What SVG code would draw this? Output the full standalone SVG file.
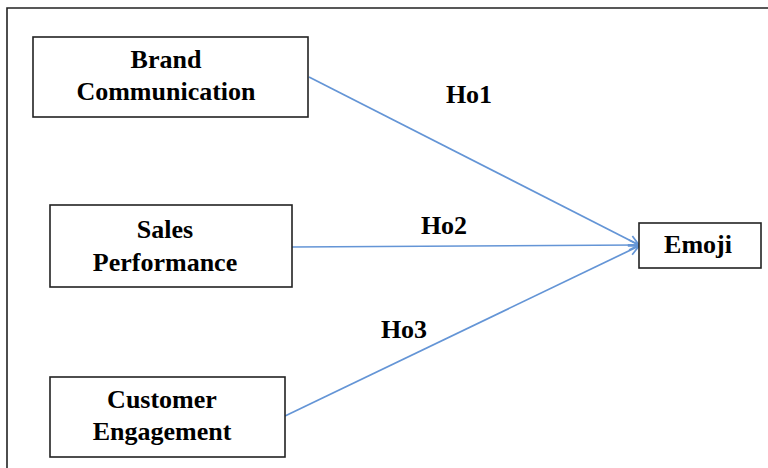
<svg xmlns="http://www.w3.org/2000/svg" width="768" height="468" viewBox="0 0 768 468">
<style>
.box{fill:#fff;stroke:#222;stroke-width:1.6}
.t{font-family:"Liberation Serif","Times New Roman",serif;font-weight:bold;font-size:26px;fill:#000;text-anchor:middle}
.c{stroke:#6495d6;stroke-width:1.7;fill:none;marker-end:url(#ah)}
</style>
<defs>
<marker id="ah" viewBox="0 0 12 12" refX="11" refY="6" markerWidth="12" markerHeight="12" markerUnits="userSpaceOnUse" orient="auto">
<path d="M1,1 L11,6 L1,11" fill="none" stroke="#6495d6" stroke-width="1.7"/>
</marker>
</defs>
<rect width="768" height="468" fill="#fff"/>
<path d="M7,468 V8 H768" fill="none" stroke="#222" stroke-width="1.6"/>
<g id="connectors">
<line class="c" x1="309" y1="77" x2="639" y2="245"/>
<line class="c" x1="292" y1="247" x2="639" y2="245"/>
<line class="c" x1="285" y1="416" x2="639" y2="246"/>
<text class="t" x="469" y="103">Ho1</text>
<text class="t" x="444" y="234">Ho2</text>
<text class="t" x="404" y="338">Ho3</text>
</g>
<g id="brand">
<rect class="box" x="33" y="37" width="275" height="80"/>
<text class="t" x="166" y="68">Brand</text>
<text class="t" x="166" y="100">Communication</text>
</g>
<g id="sales">
<rect class="box" x="50" y="205" width="242" height="82"/>
<text class="t" x="165" y="238">Sales</text>
<text class="t" x="165" y="271">Performance</text>
</g>
<g id="customer">
<rect class="box" x="50" y="377" width="235" height="80"/>
<text class="t" x="162" y="408">Customer</text>
<text class="t" x="162" y="440">Engagement</text>
</g>
<g id="emoji">
<rect class="box" x="639" y="223" width="122" height="45"/>
<text class="t" x="698" y="253">Emoji</text>
</g>
</svg>
